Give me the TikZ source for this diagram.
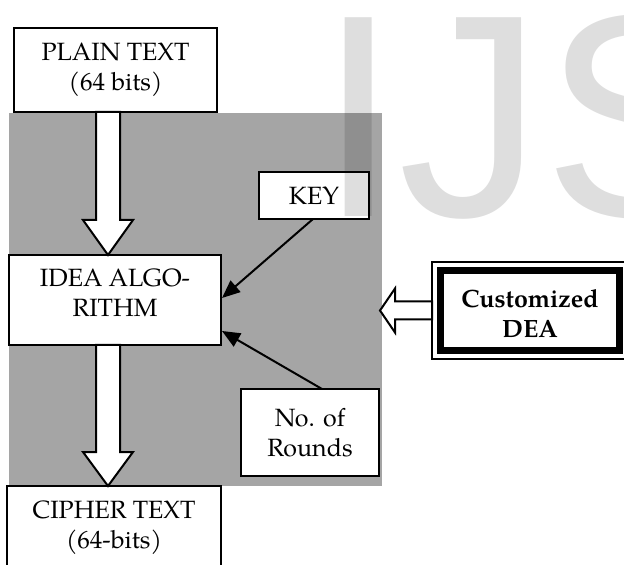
\documentclass[tikz,border=0pt]{standalone}
\usepackage{fontspec}
\setmainfont{TeX Gyre Pagella}
\newfontfamily\wmfont{Liberation Sans}
\usetikzlibrary{calc,arrows.meta}

\definecolor{panelgray}{RGB}{165,165,165}

\tikzset{
  box/.style={draw, fill=white, line width=1pt, inner sep=0pt, outer sep=0pt,
    align=center, font=\fontsize{12.5}{15}\selectfont},
  hollow/.style={draw, fill=white, line width=1pt, line join=miter},
  feed/.style={line width=1pt, -{Triangle[length=9pt,width=7.5pt]}},
}

\begin{document}
\begin{tikzpicture}[x=0.5pt, y=-0.5pt]
  \useasboundingbox (0,0) rectangle (624,565);

  % shaded block that holds the algorithm and its inputs
  \node[fill=panelgray, inner sep=0pt, outer sep=0pt, anchor=north west,
        minimum width=186.5pt, minimum height=186.5pt] (panel) at (9,113) {};

  % boxes
  \node[box, minimum width=101.5pt, minimum height=42pt] (plain) at (115.5,70)
    {PLAIN TEXT\\(64 bits)};
  \node[box, minimum width=106pt, minimum height=45pt] (idea) at (115,300)
    {IDEA ALGO-\\RITHM\rule[-7pt]{0pt}{7pt}};
  \node[box, minimum width=107pt, minimum height=42pt] (cipher) at (114,528)
    {CIPHER TEXT\\(64-bits)};
  \node[box, minimum width=55pt, minimum height=23.5pt] (key) at (314,195.5)
    {KEY};
  \node[box, minimum width=69pt, minimum height=43.5pt] (rounds) at (310,432.5)
    {No. of\\Rounds};

  % customized DEA with thin-thick frame
  \node[box, line width=0.75pt, minimum width=98pt, minimum height=48.5pt,
        font=\fontsize{12.5}{15}\selectfont\bfseries] (cust) at (530,310.5)
    {\rule{0pt}{12pt}Customized\\DEA};
  \draw[line width=3.75pt] ($(cust.north west)+(8.5,8.5)$) rectangle
                           ($(cust.south east)+(-8.5,-8.5)$);

  % hollow flow arrows
  \draw[hollow] let \p1=($(plain.south)+(-7.5,0)$), \p2=(idea.north) in
    (\x1-6pt,\y1) -- (\x1-6pt,\y2+17.5pt) -- (\x1-12.5pt,\y2+17.5pt) --
    (\x1,\y2) -- (\x1+12.5pt,\y2+17.5pt) -- (\x1+6pt,\y2+17.5pt) --
    (\x1+6pt,\y1) -- cycle;
  \draw[hollow] let \p1=($(idea.south)+(-7,0)$), \p2=(cipher.north) in
    (\x1-6pt,\y1) -- (\x1-6pt,\y2+17pt) -- (\x1-12.5pt,\y2+17pt) --
    (\x1,\y2) -- (\x1+12.5pt,\y2+17pt) -- (\x1+6pt,\y2+17pt) --
    (\x1+6pt,\y1) -- cycle;
  \draw[hollow] let \p1=(cust.west), \p2=($(panel.east|-cust.west)+(-2,0)$) in
    (\x1,\y1+4.5pt) -- (\x2+7.5pt,\y1+4.5pt) -- (\x2+7.5pt,\y1+11pt) --
    (\x2,\y1) -- (\x2+7.5pt,\y1-11pt) -- (\x2+7.5pt,\y1-4.5pt) --
    (\x1,\y1-4.5pt) -- cycle;

  % inputs to the algorithm
  \draw[feed] ($(key.south)+(-1,0)$) -- ($(idea.east)+(1,-2)$);
  \draw[feed] ($(rounds.north)+(12,0)$) -- ($(idea.south east)+(1,-14)$);

  % journal watermark
  \node[font=\wmfont\fontsize{144.5}{144.5}\selectfont, text=black,
        text opacity=0.13, inner sep=0pt, anchor=base west] (wm) at (318,217) {IJS};
\end{tikzpicture}
\end{document}
